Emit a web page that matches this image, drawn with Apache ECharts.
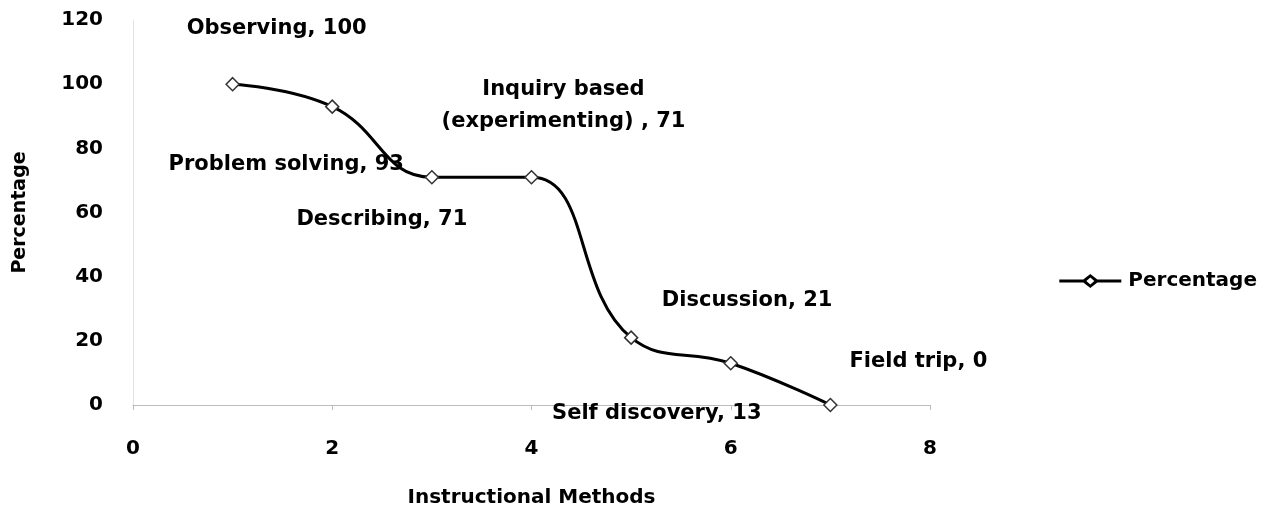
<!DOCTYPE html>
<html><head><meta charset="utf-8">
<script src="https://cdn.jsdelivr.net/npm/echarts@6/dist/echarts.min.js"></script>
<style>html,body{margin:0;padding:0;background:#fff}#c{width:1270px;height:514px}</style>
</head><body><div id="c"></div>
<script>
const methods = ['Observing', 'Problem solving', 'Describing', 'Inquiry based\n(experimenting) ', 'Discussion', 'Self discovery', 'Field trip'];
const xValues = [1, 2, 3, 4, 5, 6, 7];
const percentages = [100, 93, 71, 71, 21, 13, 0];
const xTicks = [0, 2, 4, 6, 8];
const yTicks = [0, 20, 40, 60, 80, 100, 120];

const labelOffsets = [[44, -56], [-46, 58], [-50, 42], [32, -72], [116, -37], [-74, 50], [88, -43]];
const font = '"DejaVu Sans", sans-serif';
const chart = echarts.init(document.getElementById('c'));
chart.setOption({
  animation: false,
  grid: {left: 133, right: 340, top: 20, bottom: 109},
  legend: {
    right: 8, top: 266, itemWidth: 62, itemHeight: 14, itemGap: 4,
    textStyle: {fontFamily: font, fontWeight: 'bold', fontSize: 20, color: '#000', padding: [0, 0, 0, 2]},
    data: [{
      name: 'Percentage',
      icon: 'path://M0,5.5 L24,5.5 L31,0 L38,5.5 L62,5.5 L62,8.5 L38,8.5 L31,14 L24,8.5 L0,8.5 Z M31,3.5 L27,7 L31,10.5 L35,7 Z',
      itemStyle: {color: '#000', borderWidth: 0}
    }]
  },
  xAxis: {
    type: 'value', min: 0, max: 8, interval: 2,
    name: 'Instructional Methods', nameLocation: 'middle', nameGap: 83,
    nameTextStyle: {fontFamily: font, fontWeight: 'bold', fontSize: 20, color: '#000'},
    axisLine: {lineStyle: {color: '#bbb', width: 1}},
    axisTick: {show: true, lineStyle: {color: '#bbb'}},
    splitLine: {show: false},
    axisLabel: {fontFamily: font, fontWeight: 'bold', fontSize: 20, color: '#000', margin: 34,
      formatter: v => xTicks.includes(v) ? String(v) : ''}
  },
  yAxis: {
    type: 'value', min: 0, max: 120, interval: 20,
    name: 'Percentage', nameLocation: 'middle', nameGap: 103, nameRotate: 90,
    nameTextStyle: {fontFamily: font, fontWeight: 'bold', fontSize: 19, color: '#000'},
    axisLine: {show: true, lineStyle: {color: '#e2e2e2', width: 1}},
    axisTick: {show: false},
    splitLine: {show: false},
    axisLabel: {fontFamily: font, fontWeight: 'bold', fontSize: 20, color: '#000', margin: 30,
      formatter: v => yTicks.includes(v) ? String(v) : ''}
  },
  series: [{
    name: 'Percentage', type: 'line', smooth: 0.45,
    symbol: 'diamond', symbolSize: 13, showAllSymbol: true,
    lineStyle: {color: '#000', width: 3},
    itemStyle: {color: '#fff', borderColor: '#333', borderWidth: 1.5},
    data: xValues.map((x, i) => ({
      value: [x, percentages[i]],
      label: {
        show: true, offset: labelOffsets[i], position: 'inside',
        formatter: methods[i] + ', ' + percentages[i],
        fontFamily: font, fontWeight: 'bold', fontSize: 21, color: '#000', lineHeight: 32, align: 'center'
      }
    }))
  }]
});
</script></body></html>
